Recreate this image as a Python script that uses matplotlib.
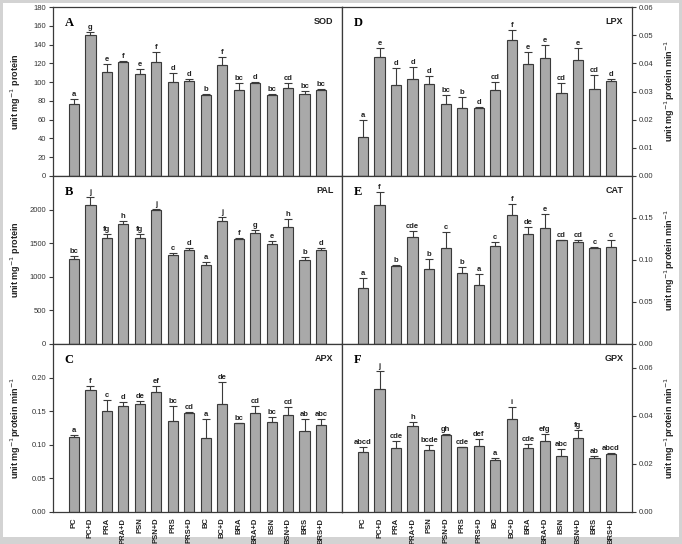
import numpy as np
import matplotlib
matplotlib.use("Agg")
import matplotlib.pyplot as plt
from matplotlib.patches import Rectangle

# -------------------------
# Data
# -------------------------
treatments = ["PC", "PC+D", "PRA", "PRA+D", "PSN", "PSN+D", "PRS", "PRS+D",
              "BC", "BC+D", "BRA", "BRA+D", "BSN", "BSN+D", "BRS", "BRS+D"]

sod = [77, 150, 110.5, 121, 109, 121.5, 100, 101, 86, 118.7, 92, 99.4, 86, 93.7, 87.7, 92]
sod_err = [5, 3, 8.5, 1, 5, 11, 10, 2, 1.5, 8, 7, 1, 1.5, 5, 3, 1]
sod_lab = ["a", "g", "e", "f", "e", "f", "d", "d", "b", "f", "bc", "d", "bc", "cd", "bc", "bc"]

pal = [1270, 2065, 1578, 1782, 1573, 1995, 1325, 1404, 1176, 1826, 1558, 1648, 1494, 1742, 1251, 1404]
pal_err = [35, 124, 55, 50, 60, 15, 30, 30, 40, 60, 15, 45, 40, 124, 45, 30]
pal_lab = ["bc", "j", "fg", "h", "fg", "j", "c", "d", "a", "j", "f", "g", "e", "h", "b", "d"]

apx = [0.111, 0.182, 0.150, 0.157, 0.161, 0.178, 0.136, 0.148, 0.110, 0.160, 0.132, 0.148, 0.134, 0.144, 0.120, 0.130]
apx_err = [0.003, 0.006, 0.017, 0.0065, 0.004, 0.009, 0.021, 0.0015, 0.028, 0.033, 0.0005, 0.009, 0.007, 0.012, 0.019, 0.0084]
apx_lab = ["a", "f", "c", "d", "de", "ef", "bc", "cd", "a", "de", "bc", "cd", "bc", "cd", "ab", "abc"]

lpx = [0.0139, 0.0424, 0.0324, 0.0346, 0.0326, 0.0257, 0.0242, 0.0242, 0.0304, 0.0482, 0.0396, 0.0420, 0.0296, 0.0413, 0.0310, 0.0336]
lpx_err = [0.006, 0.003, 0.0058, 0.004, 0.003, 0.0029, 0.004, 0.0003, 0.003, 0.0037, 0.0044, 0.0046, 0.0034, 0.004, 0.005, 0.0008]
lpx_lab = ["a", "e", "d", "d", "d", "bc", "b", "d", "cd", "f", "e", "e", "cd", "e", "cd", "d"]

cat = [0.067, 0.1655, 0.0925, 0.127, 0.0897, 0.1147, 0.085, 0.0706, 0.117, 0.1536, 0.1306, 0.1377, 0.1234, 0.121, 0.1143, 0.1155]
cat_err = [0.012, 0.016, 0.002, 0.007, 0.011, 0.019, 0.007, 0.013, 0.005, 0.0135, 0.0087, 0.017, 0.0005, 0.0024, 0.001, 0.0087]
cat_lab = ["a", "f", "b", "cde", "b", "c", "b", "a", "c", "f", "de", "e", "cd", "cd", "c", "c"]

gpx = [0.0249, 0.0513, 0.0265, 0.0358, 0.026, 0.0322, 0.027, 0.0275, 0.0217, 0.0386, 0.0265, 0.0296, 0.0235, 0.0307, 0.0224, 0.024]
gpx_err = [0.0023, 0.0075, 0.003, 0.0018, 0.0018, 0.0002, 0.0002, 0.0028, 0.0007, 0.0052, 0.002, 0.0028, 0.0028, 0.0033, 0.001, 0.0007]
gpx_lab = ["abcd", "j", "cde", "h", "bcde", "gh", "cde", "def", "a", "i", "cde", "efg", "abc", "fg", "ab", "abcd"]

# -------------------------
# Figure
# -------------------------
W, H = 682, 544
fig = plt.figure(figsize=(W / 100, H / 100), dpi=100, facecolor="#d3d3d3")
fig.patches.append(Rectangle((3 / W, 7 / H), 676 / W, 534 / H, transform=fig.transFigure,
                             facecolor="white", edgecolor="none", zorder=-10))

plt.rcParams["font.family"] = ["Liberation Sans", "DejaVu Sans"]

BAR_FC = "#a9a9a9"
DARK = "#3a3a3a"


def px_axes(x0, y0, x1, y1):
    return fig.add_axes([x0 / W, 1 - y1 / H, (x1 - x0) / W, (y1 - y0) / H])


panels = [
    # letter, name, values, errors, labels, ylim, ticks, fmt, side, row, ylabel
    ("A", "SOD", sod, sod_err, sod_lab, 180, np.arange(0, 181, 20), "{:.0f}", "left", 0,
     "unit mg$^{-1}$ protein"),
    ("B", "PAL", pal, pal_err, pal_lab, 2500, np.arange(0, 2001, 500), "{:.0f}", "left", 1,
     "unit mg$^{-1}$ protein"),
    ("C", "APX", apx, apx_err, apx_lab, 0.25, np.arange(0, 0.201, 0.05), "{:.2f}", "left", 2,
     "unit mg$^{-1}$protein min$^{-1}$"),
    ("D", "LPX", lpx, lpx_err, lpx_lab, 0.06, np.arange(0, 0.0601, 0.01), "{:.2f}", "right", 0,
     "unit mg$^{-1}$protein min$^{-1}$"),
    ("E", "CAT", cat, cat_err, cat_lab, 0.20, np.arange(0, 0.151, 0.05), "{:.2f}", "right", 1,
     "unit mg$^{-1}$protein min$^{-1}$"),
    ("F", "GPX", gpx, gpx_err, gpx_lab, 0.07, np.arange(0, 0.061, 0.02), "{:.2f}", "right", 2,
     "unit mg$^{-1}$protein min$^{-1}$"),
]

rows_px = [(7, 176), (176, 344), (344, 512)]
cols_px = {"left": (53, 342), "right": (342, 632)}

x = np.arange(len(treatments))

for letter, name, vals, errs, labs, ymax, ticks, fmt, side, row, ylabel in panels:
    x0, x1 = cols_px[side]
    y0, y1 = rows_px[row]
    ax = px_axes(x0, y0, x1, y1)

    vals = np.array(vals)
    errs = np.array(errs)
    ax.bar(x, vals, width=0.62, color=BAR_FC, edgecolor=DARK, linewidth=0.8, zorder=2)
    ax.errorbar(x, vals, yerr=[np.zeros_like(errs), errs], fmt="none",
                ecolor=DARK, elinewidth=0.8, capsize=3, capthick=0.8, zorder=3)

    for xi, v, e, lab in zip(x, vals, errs, labs):
        ax.text(xi, v + e + ymax * 0.006, lab, ha="center", va="bottom",
                fontsize=5.5, fontweight="bold", color="#222222")

    ax.set_xlim(-1.27, 15 + 1.27)
    ax.set_ylim(0, ymax)
    ax.set_yticks(ticks)
    ax.set_yticklabels([fmt.format(t) for t in ticks], fontsize=5.5, color="#333333")

    if side == "right":
        ax.yaxis.tick_right()
        ax.yaxis.set_label_position("right")
        ax.set_ylabel(ylabel, fontsize=6.5, fontweight="bold", rotation=90, color="#222222")
        ax.yaxis.set_label_coords(1.105, 0.5)
    else:
        ax.set_ylabel(ylabel, fontsize=6.5, fontweight="bold", color="#222222")
        ax.yaxis.set_label_coords(-0.105, 0.5)

    ax.tick_params(axis="y", length=3, width=0.8, color=DARK, pad=2)

    if row == 2:
        ax.set_xticks(x)
        ax.set_xticklabels(treatments, rotation=90, fontsize=5.5, fontweight="bold", color="#222222")
        ax.tick_params(axis="x", length=0, pad=4)
    else:
        ax.set_xticks([])

    for sp in ax.spines.values():
        sp.set_color(DARK)
        sp.set_linewidth(0.9)

    ax.text(0.04, 0.94, letter, transform=ax.transAxes, ha="left", va="top",
            fontsize=9, fontweight="bold", family=["Liberation Serif", "DejaVu Serif"])
    ax.text(0.97, 0.94, name, transform=ax.transAxes, ha="right", va="top",
            fontsize=6.5, fontweight="bold", color="#222222")

fig.savefig("out.png", dpi=100, facecolor=fig.get_facecolor())
